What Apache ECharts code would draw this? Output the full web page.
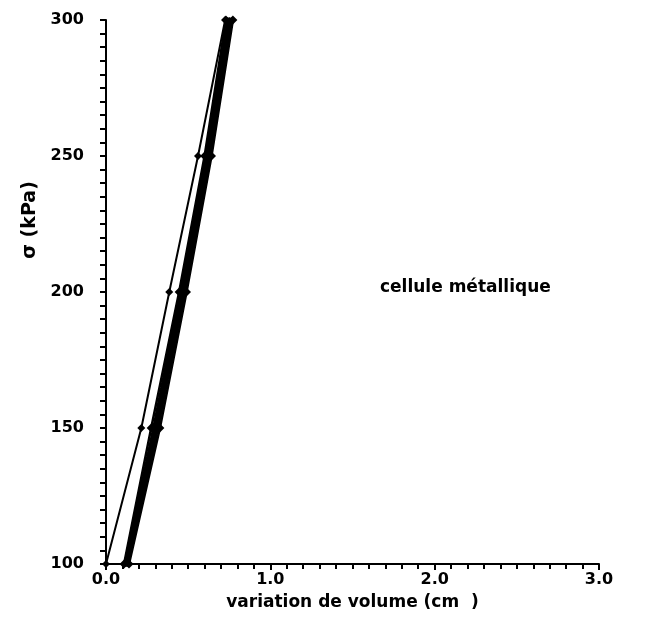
<!DOCTYPE html>
<html>
<head>
<meta charset="utf-8">
<script src="https://cdn.jsdelivr.net/npm/echarts@6/dist/echarts.min.js"></script>
<style>html,body{margin:0;padding:0;background:#fff;}#c{width:659px;height:624px;}</style>
</head>
<body>
<div id="c"></div>
<script>
// x = variation de volume (cm3), y = sigma (kPa)
const sigma = [100, 150, 200, 250, 300];
const thinLine = [0.000, 0.215, 0.385, 0.560, 0.725];
const bundle1 = [0.110, 0.275, 0.445, 0.600, 0.730];
const bundle2 = [0.118, 0.290, 0.455, 0.612, 0.742];
const bundle3 = [0.125, 0.302, 0.468, 0.622, 0.752];
const bundle4 = [0.132, 0.315, 0.478, 0.632, 0.762];
const bundle5 = [0.140, 0.328, 0.490, 0.642, 0.772];
const xTicks = [0.0, 1.0, 2.0, 3.0];
const yTicks = [100, 150, 200, 250, 300];
const annotation = 'cellule métallique';
const xName = 'variation de volume (cm  )';
const yName = 'σ (kPa)';

const FONT = 'DejaVu Sans';
function mk(xs, width, sym) {
  return {
    type: 'line',
    data: xs.map((x, i) => [x, sigma[i]]),
    showSymbol: true,
    symbol: 'diamond',
    symbolSize: sym,
    lineStyle: { color: '#000', width: width },
    itemStyle: { color: '#000' },
    animation: false,
    silent: true
  };
}
const chart = echarts.init(document.getElementById('c'));
chart.setOption({
  backgroundColor: '#fff',
  animation: false,
  grid: { left: 106, right: 60, top: 20, bottom: 60 },
  xAxis: {
    type: 'value', min: 0, max: 3, interval: 1,
    name: xName, nameLocation: 'middle', nameGap: 30,
    nameTextStyle: { fontFamily: FONT, fontWeight: 'bold', fontSize: 17, color: '#000' },
    axisLine: { lineStyle: { color: '#000', width: 2 } },
    axisTick: { show: true, length: 6, inside: false, lineStyle: { color: '#000', width: 2 } },
    minorTick: { show: true, splitNumber: 10, length: 5, lineStyle: { color: '#000', width: 2 } },
    splitLine: { show: false },
    axisLabel: { fontFamily: FONT, fontWeight: 'bold', fontSize: 16, color: '#000', margin: 8,
      formatter: v => xTicks.includes(v) ? v.toFixed(1) : '' }
  },
  yAxis: {
    type: 'value', min: 100, max: 300, interval: 50,
    axisLine: { show: true, lineStyle: { color: '#000', width: 2 } },
    axisTick: { show: true, length: 6, inside: false, lineStyle: { color: '#000', width: 2 } },
    minorTick: { show: true, splitNumber: 10, length: 6, lineStyle: { color: '#000', width: 2 } },
    splitLine: { show: false },
    axisLabel: { fontFamily: FONT, fontWeight: 'bold', fontSize: 16, color: '#000', margin: 22,
      formatter: v => yTicks.includes(v) ? String(v) : '' }
  },
  graphic: [
    { type: 'text', left: 380, top: 279,
      style: { text: annotation, fontFamily: FONT, fontWeight: 'bold', fontSize: 17, fill: '#000' } },
    { type: 'text', x: 30, y: 220, rotation: Math.PI / 2,
      style: { text: yName, fontFamily: FONT, fontWeight: 'bold', fontSize: 19, fill: '#000',
        align: 'center', verticalAlign: 'middle' } }
  ],
  series: [
    mk(thinLine, 2, 8),
    mk(bundle1, 2.5, 9),
    mk(bundle2, 3, 6),
    mk(bundle3, 3, 6),
    mk(bundle4, 3, 6),
    mk(bundle5, 2.5, 9)
  ]
});
</script>
</body>
</html>
